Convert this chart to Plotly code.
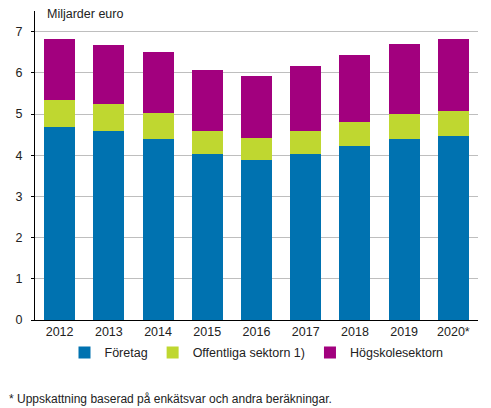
import plotly.graph_objects as go

years = ["2012", "2013", "2014", "2015", "2016", "2017", "2018", "2019", "2020*"]

# (milliards euro), stacked segments
foretag = [4.68, 4.58, 4.39, 4.03, 3.88, 4.03, 4.22, 4.39, 4.46]
offentliga = [0.65, 0.66, 0.63, 0.55, 0.53, 0.55, 0.58, 0.61, 0.61]
hogskole = [1.48, 1.43, 1.48, 1.48, 1.51, 1.58, 1.63, 1.69, 1.74]

names = ["Företag", "Offentliga sektorn 1)", "Högskolesektorn"]
colors = ["#0072B0", "#BFD730", "#A2007E"]

fig = go.Figure()
for vals, nm, col in zip([foretag, offentliga, hogskole], names, colors):
    fig.add_trace(go.Bar(x=years, y=vals, name=nm, marker_color=col,
                         marker_line_width=0))

# page body has an 8px margin, so the figure is a bit smaller than the window
fig.update_layout(
    barmode="stack", bargap=0.37,
    width=483, height=400,
    margin=dict(l=27, r=13, t=3, b=88),
    plot_bgcolor="white", paper_bgcolor="white",
    font=dict(family="Liberation Sans, Arial", size=12.5, color="#222222"),
    legend=dict(orientation="h", x=0.5, xanchor="center", y=-0.058, yanchor="top",
                traceorder="normal", font=dict(size=12.5), itemwidth=30,
                tracegroupgap=0),
    showlegend=True,
)
fig.update_xaxes(showline=True, linecolor="black", linewidth=1, ticks="",
                 showgrid=False)
fig.update_yaxes(range=[0, 7.5], dtick=1, showgrid=True, gridcolor="#BEBEBE",
                 gridwidth=1, showline=True, linecolor="black", linewidth=1,
                 ticks="outside", ticklen=3, tickcolor="black",
                 zeroline=False, ticklabelstandoff=6)

fig.add_annotation(text="Miljarder euro", xref="paper", yref="paper",
                   x=0.0226, y=0.989, xanchor="left", yanchor="middle",
                   showarrow=False, font=dict(size=12.5))
fig.add_annotation(text="* Uppskattning baserad på enkätsvar och andra beräkningar.",
                   xref="paper", yref="paper", x=-0.063, y=-0.255,
                   xanchor="left", yanchor="middle", showarrow=False,
                   font=dict(size=12))

fig.write_html("out.html")
